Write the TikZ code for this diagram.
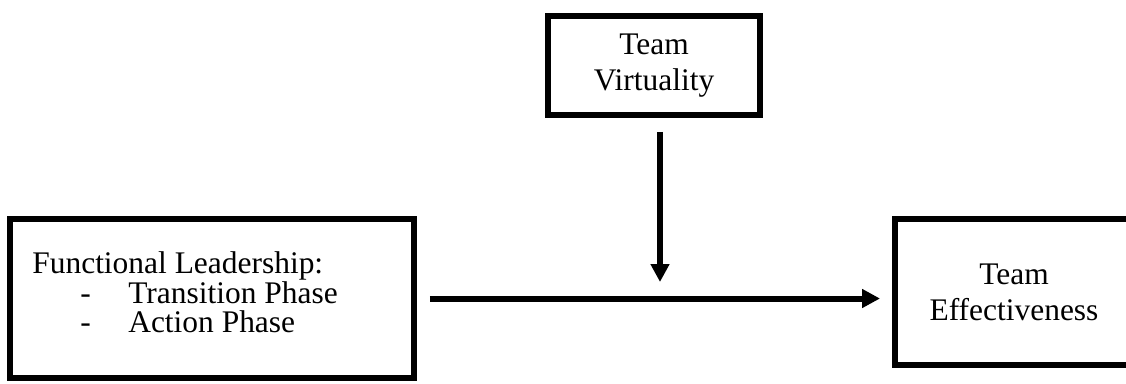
\documentclass[tikz,border=0pt]{standalone}
\usepackage{fontspec}
\setmainfont{Liberation Serif}
\usetikzlibrary{arrows.meta}
\begin{document}
\begin{tikzpicture}[x=0.02cm,y=-0.02cm,
  box/.style={draw,line width=0.12cm,inner sep=0pt,align=center,
    font=\fontsize{17.9}{20.5}\selectfont},
  arr/.style={line width=0.12cm,-{Triangle[length=0.36cm,width=0.36cm]}}]
  \useasboundingbox (0,0) rectangle (1126,383); %ramme
  \node[box,minimum width=4.24cm,minimum height=1.98cm] (virt) at (654,65.5) {Team\\Virtuality}; %moderator
  \node[box,minimum width=8.08cm,minimum height=3.18cm] (lead) at (212,298.5) {}; %uafhaengig
  \node[anchor=north west,inner sep=0pt,align=left,font=\fontsize{17.9}{16.2}\selectfont]
    (leadtxt) at (32,251.5)
    {Functional Leadership:\\
     \hspace*{0.96cm}\makebox[0.96cm][l]{-}Transition Phase\\
     \hspace*{0.96cm}\makebox[0.96cm][l]{-}Action Phase}; %tekst i boks
  \node[box,minimum width=4.76cm,minimum height=2.92cm] (eff) at (1014,292) {Team\\Effectiveness}; %afhaengig
  \coordinate (join) at (660,282); %pilspids
  \draw[arr,shorten <=0.28cm] (virt.south -| join) -- (join); %lodret pil
  \draw[arr,shorten <=0.26cm,shorten >=0.24cm] (lead.east) -- (eff.west |- lead.east); %vandret pil
\end{tikzpicture}
\end{document}
